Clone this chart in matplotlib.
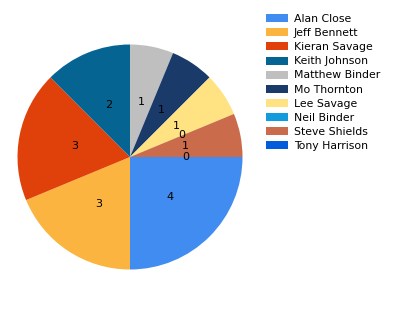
import matplotlib
matplotlib.use("Agg")
import matplotlib.pyplot as plt
from matplotlib.patches import Patch

names = ["Alan Close", "Jeff Bennett", "Kieran Savage", "Keith Johnson", "Matthew Binder",
         "Mo Thornton", "Lee Savage", "Neil Binder", "Steve Shields", "Tony Harrison"]
values = [4, 3, 3, 2, 1, 1, 1, 0, 1, 0]
colors = ["#418CF0", "#FCB441", "#E0400A", "#056492", "#BFBFBF",
          "#1A3B69", "#FFE382", "#129CDD", "#CA6B4B", "#005CDB"]

plt.rcParams['font.family'] = ['DejaVu Sans']
W, H = 400, 314
fig = plt.figure(figsize=(W / 100, H / 100), dpi=100)
cx, cy, r = 130, 157, 112.5
ax = fig.add_axes([(cx - r) / W, (H - cy - r) / H, 2 * r / W, 2 * r / H])
total = sum(values)
wedges, texts, autotexts = ax.pie(values, colors=colors, startangle=0, counterclock=False,
                                  autopct=lambda p: f"{round(p * total / 100)}",
                                  pctdistance=0.5, textprops=dict(fontsize=8, color="black"))
ax.set_xlim(-1, 1)
ax.set_ylim(-1, 1)
ax.set_aspect('equal')
ax.axis('off')

handles = [Patch(facecolor=c, edgecolor='none') for c in colors]
fig.legend(handles, names, loc='upper left', bbox_to_anchor=(266 / W, 1 - 14 / H),
           frameon=False, fontsize=7.8, handlelength=2.0, handleheight=0.75,
           labelspacing=0.38, handletextpad=0.55, borderaxespad=0, borderpad=0)
fig.savefig("out.png", dpi=100)
